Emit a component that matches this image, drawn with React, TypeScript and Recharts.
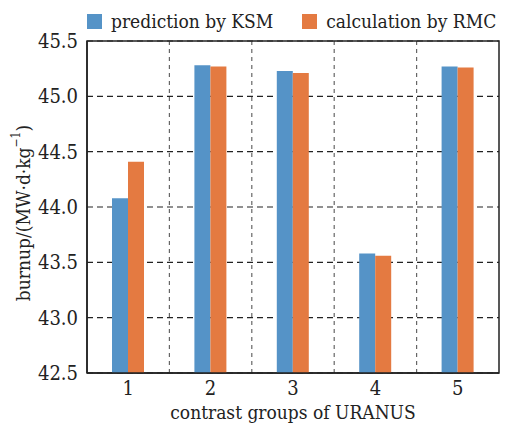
import { BarChart, Bar, XAxis, YAxis, CartesianGrid, Legend, ReferenceArea } from 'recharts';

const groups = ['1', '2', '3', '4', '5'];
const ksm = [44.08, 45.28, 45.23, 43.58, 45.27];
const rmc = [44.41, 45.27, 45.21, 43.56, 45.26];
const yTicks = [42.5, 43.0, 43.5, 44.0, 44.5, 45.0, 45.5];

const BLUE = '#5593c7';
const ORANGE = '#e47a41';
const FONT = 'DejaVu Serif';

const data = groups.map((g, i) => ({ group: g, ksm: ksm[i], rmc: rmc[i] }));

const LegendBox = () => (
  <div style={{ display: 'flex', alignItems: 'center', fontFamily: '"DejaVu Serif Condensed"', fontSize: 19, color: '#222', lineHeight: '23px', whiteSpace: 'nowrap' }}>
    <span style={{ width: 15, height: 15, background: BLUE, display: 'inline-block', marginRight: 9 }} />
    <span>prediction by KSM</span>
    <span style={{ width: 15, height: 15, background: ORANGE, display: 'inline-block', marginLeft: 29, marginRight: 9 }} />
    <span>calculation by RMC</span>
  </div>
);

const YLabel = () => (
  <text
    x={23}
    y={213}
    transform="rotate(-90 23 213)"
    textAnchor="middle"
    dominantBaseline="central"
    fontSize={19}
    fontFamily={FONT}
    fontStretch="condensed"
    fill="#222"
  >
    burnup/(MW·d·kg
    <tspan dy={-7} fontSize={12}>−1</tspan>
    <tspan dy={7}>)</tspan>
  </text>
);

export default function App() {
  return (
    <div style={{ position: 'absolute', left: 0, top: 0, background: '#fff' }}>
      <BarChart
        width={505}
        height={425}
        data={data}
        margin={{ top: 18, right: 6, bottom: 0, left: 27 }}
        barGap={0}
      >
        <CartesianGrid vertical={false} stroke="#222" strokeDasharray="6 4" strokeWidth={1.2} />
        <CartesianGrid
          horizontal={false}
          stroke="#666"
          strokeDasharray="4 4"
          strokeWidth={1.2}
          verticalCoordinatesGenerator={({ offset }: any) =>
            [1, 2, 3, 4].map((i) => offset.left + (offset.width * i) / groups.length)
          }
        />
        <XAxis
          dataKey="group"
          height={52}
          tickLine={false}
          tickSize={0}
          tickMargin={8}
          axisLine={{ stroke: '#222', strokeWidth: 1.5 }}
          tick={{ fontSize: 20, fontFamily: FONT, fontStretch: 'condensed', fill: '#222' }}
          label={{
            value: 'contrast groups of URANUS',
            position: 'insideBottom',
            offset: 6,
            style: { fontSize: 19, fontFamily: FONT, fontStretch: 'condensed', fill: '#222' },
          }}
        />
        <YAxis
          domain={[42.5, 45.5]}
          ticks={yTicks}
          width={60}
          interval={0}
          tickLine={false}
          tickSize={0}
          tickMargin={9}
          tickFormatter={(v: number) => v.toFixed(1)}
          axisLine={{ stroke: '#222', strokeWidth: 1.5 }}
          tick={{ fontSize: 20, fontFamily: FONT, fontStretch: 'condensed', fill: '#222' }}
          label={{ content: () => <YLabel /> }}
        />
        <Legend
          verticalAlign="top"
          content={() => <LegendBox />}
          wrapperStyle={{ position: 'absolute', top: 10, left: 87, width: 'auto' }}
        />
        <Bar dataKey="ksm" fill={BLUE} barSize={16} isAnimationActive={false} />
        <Bar dataKey="rmc" fill={ORANGE} barSize={16} isAnimationActive={false} />
        <ReferenceArea y1={42.5} y2={45.5} fill="none" stroke="#222" strokeWidth={1.5} />
      </BarChart>
    </div>
  );
}
